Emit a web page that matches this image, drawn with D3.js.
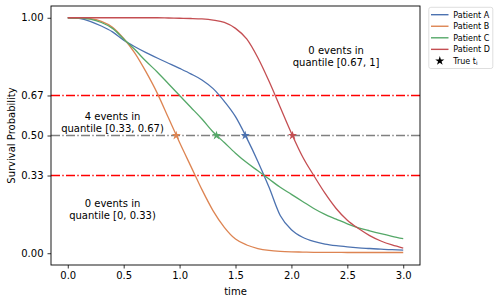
<!DOCTYPE html>
<html>
<head>
<meta charset="utf-8">
<script src="https://cdn.jsdelivr.net/npm/d3@7"></script>
<style>
  html, body { margin: 0; padding: 0; background: #fff; }
  svg { display: block; font-family: "DejaVu Sans", sans-serif; }
</style>
</head>
<body>
<svg id="chart" width="499" height="303"></svg>
<script>
// ---------------- data ----------------
const times = [0.0,0.1,0.2,0.3,0.4,0.5,0.6,0.7,0.8,0.9,1.0,1.1,1.2,1.3,1.4,1.5,1.6,1.7,1.8,1.9,2.0,2.1,2.2,2.3,2.4,2.5,2.6,2.7,2.8,2.9,3.0];
const patientA = [1.0,0.997,0.985,0.965,0.94,0.905,0.877,0.852,0.829,0.807,0.785,0.762,0.736,0.699,0.645,0.58,0.49,0.39,0.28,0.16,0.10,0.068,0.05,0.039,0.032,0.027,0.023,0.02,0.017,0.015,0.013];
const patientB = [1.0,0.999,0.996,0.985,0.96,0.912,0.85,0.77,0.68,0.575,0.47,0.37,0.27,0.18,0.11,0.06,0.035,0.02,0.012,0.008,0.006,0.005,0.004,0.004,0.004,0.003,0.003,0.003,0.003,0.003,0.003];
const patientC = [1.0,0.999,0.994,0.98,0.955,0.91,0.865,0.815,0.77,0.72,0.67,0.62,0.57,0.515,0.47,0.425,0.385,0.35,0.315,0.28,0.25,0.22,0.19,0.165,0.145,0.125,0.108,0.095,0.083,0.072,0.062];
const patientD = [1.0,1.0,1.0,1.0,1.0,1.0,1.0,1.0,1.0,0.999,0.998,0.997,0.995,0.99,0.98,0.955,0.91,0.83,0.73,0.62,0.51,0.41,0.33,0.255,0.19,0.14,0.105,0.075,0.052,0.035,0.022];
const seriesNames = ["Patient A","Patient B","Patient C","Patient D"];
const seriesValues = [patientA, patientB, patientC, patientD];
const seriesColors = ["#4c72b0","#dd8452","#55a868","#c44e52"];
const trueTimes = [1.587, 0.97, 1.33, 2.01];
const trueProbs = [0.5, 0.5, 0.5, 0.5];
const quantileLevels = [0.67, 0.5, 0.33];
const quantileColors = ["#ff0000", "#808080", "#ff0000"];
const xTicks = [0.0,0.5,1.0,1.5,2.0,2.5,3.0];
const yTicks = [0.0,0.33,0.5,0.67,1.0];
const noteLines = [["0 events in","quantile [0.67, 1]"],["4 events in","quantile [0.33, 0.67)"],["0 events in","quantile [0, 0.33)"]];
const noteX = [2.4, 0.4, 0.4];
const noteY = [0.846, 0.565, 0.196];

// ---------------- layout ----------------
const svg = d3.select("#chart");
const L = 51, R = 420, T = 6, B = 265;
const x = d3.scaleLinear().domain([-0.15, 3.15]).range([L, R]);
const y = d3.scaleLinear().domain([-0.05, 1.05]).range([B, T]);

// horizontal quantile lines
const dash = "9,2.3,1.4,2.3";
svg.append("g").selectAll("line").data(quantileLevels).join("line")
  .attr("x1", L).attr("x2", R)
  .attr("y1", d => y(d)).attr("y2", d => y(d))
  .attr("stroke", (d,i) => quantileColors[i])
  .attr("stroke-width", 1.4)
  .attr("stroke-dasharray", dash);

// curves
const line = d3.line().x(d => x(d[0])).y(d => y(d[1])).curve(d3.curveMonotoneX);
svg.append("g").selectAll("path").data(seriesValues).join("path")
  .attr("d", vals => line(times.map((t,i) => [t, vals[i]])))
  .attr("fill", "none")
  .attr("stroke", (d,i) => seriesColors[i])
  .attr("stroke-width", 1.3);

// stars
const star = d3.symbol().type(d3.symbolStar).size(26);
svg.append("g").selectAll("path").data(trueTimes).join("path")
  .attr("d", star)
  .attr("transform", (d,i) => `translate(${x(d)},${y(trueProbs[i])})`)
  .attr("fill", (d,i) => seriesColors[i]);

// annotations
noteLines.forEach((lines, k) => {
  const t = svg.append("text")
    .attr("text-anchor", "middle")
    .attr("font-size", 10)
    .attr("fill", "#000");
  lines.forEach((s, j) => {
    t.append("tspan").attr("x", x(noteX[k])).attr("y", y(noteY[k]) + j * 12).text(s);
  });
});

// axes
const xAxis = svg.append("g").attr("transform", `translate(0,${B})`)
  .call(d3.axisBottom(x).tickValues(xTicks).tickFormat(d3.format(".1f")).tickSize(3.5).tickPadding(3.5));
const yAxis = svg.append("g").attr("transform", `translate(${L},0)`)
  .call(d3.axisLeft(y).tickValues(yTicks).tickFormat(d3.format(".2f")).tickSize(3.5).tickPadding(4));
[xAxis, yAxis].forEach(g => {
  g.select(".domain").remove();
  g.selectAll("text").attr("font-size", 10).attr("fill", "#000").attr("font-family", "DejaVu Sans");
  g.selectAll("line").attr("stroke", "#000").attr("stroke-width", 0.8);
});
svg.append("rect").attr("x", L).attr("y", T).attr("width", R - L).attr("height", B - T)
  .attr("fill", "none").attr("stroke", "#000").attr("stroke-width", 0.9);

svg.append("text").attr("x", (L + R) / 2).attr("y", 294.5)
  .attr("text-anchor", "middle").attr("font-size", 10).text("time");
svg.append("text").attr("transform", `translate(15,${(T + B) / 2}) rotate(-90)`)
  .attr("text-anchor", "middle").attr("font-size", 10).text("Survival Probability");

// legend
const lg = svg.append("g");
lg.append("rect").attr("x", 428.8).attr("y", 7.3).attr("width", 64).attr("height", 61.2)
  .attr("rx", 2).attr("fill", "#fff").attr("fill-opacity", 0.8)
  .attr("stroke", "#d5d5d5").attr("stroke-width", 0.8);
const ly = i => 14.7 + i * 11.55;
seriesNames.forEach((name, i) => {
  lg.append("line").attr("x1", 431).attr("x2", 448.5).attr("y1", ly(i)).attr("y2", ly(i))
    .attr("stroke", seriesColors[i]).attr("stroke-width", 1.4);
  lg.append("text").attr("x", 453.3).attr("y", ly(i) + 2.9).attr("font-size", 8).text(name);
});
lg.append("path").attr("d", d3.symbol().type(d3.symbolStar).size(26)())
  .attr("transform", `translate(439.8,${ly(4)})`).attr("fill", "#000");
const tt = lg.append("text").attr("x", 453.3).attr("y", ly(4) + 2.9).attr("font-size", 8);
tt.append("tspan").text("True t");
tt.append("tspan").attr("font-size", 5.5).attr("dy", 1.6).text("i");
</script>
</body>
</html>
